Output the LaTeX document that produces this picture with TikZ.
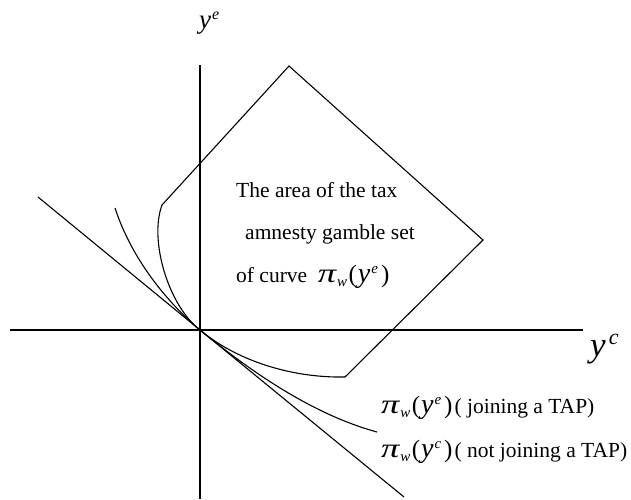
\documentclass[tikz,border=0pt]{standalone}
\usepackage{fontspec}
\usepackage{graphicx}
\setmainfont{Liberation Serif}
\newcommand{\fsz}[1]{\fontsize{#1}{#1}\selectfont}
\newcommand{\piw}[1]{\scalebox{1.35}[1]{\fsz{27}\textit{π}}\raisebox{-4pt}{\fsz{15}\textit{w}}\kern1.5pt{\fsz{25}(}\kern1pt{\fsz{28}\textit{y}}\kern1pt\raisebox{9pt}{\fsz{15}\textit{#1}}\kern3pt{\fsz{25})}\kern2pt}
\begin{document}
\begin{tikzpicture}[x=1pt,y=-1pt,
  ln/.style={line width=1.1pt,black},
  lbl/.style={anchor=base west,inner sep=0pt,font=\fsz{21.5}}]
\useasboundingbox (0,0) rectangle (631,499);
% axes
\coordinate (O) at (200,330);
\coordinate (vtop) at (200,65);
\coordinate (vbot) at (200,499);
\coordinate (hl) at (10,330);
\coordinate (hr) at (583,330);
\draw[ln] (vtop) -- (vbot);
\draw[ln] (hl) -- (hr);
% gamble set boundary
\coordinate (A) at (162,205);
\coordinate (B) at (289,66);
\coordinate (C) at (483,240);
\coordinate (D) at (345,377);
\draw[ln] (A) -- (B) -- (C) -- (D);
\draw[ln] (A) .. controls (149,240) and (168,305) .. (O)
            .. controls (236,360) and (290,378) .. (D);
% curve pi_w(y^e)
\coordinate (E1) at (115,208);
\coordinate (E2) at (377,432);
\draw[ln] (E1) .. controls (132,260) and (168,303) .. (O)
            .. controls (255,375) and (315,415) .. (E2);
% straight line pi_w(y^c)
\coordinate (L1) at (38,197);
\coordinate (L2) at (404,497);
\draw[ln] (L1) -- (O) -- (L2);
% texts
\node[lbl] (t1) at (236,197) {The area of the tax};
\node[lbl] (t2) at (245,239) {amnesty gamble set};
\node[lbl] (t3) at (236,282) {of curve\ \ \piw{e}};
\node[lbl] (p1) at (381,413) {\piw{e}( joining a TAP)};
\node[lbl] (p2) at (381,457) {\piw{c}( not joining a TAP)};
\node[lbl] (ye) at (199,28) {{\fsz{27}\textit{y}}\kern1pt\raisebox{9pt}{\fsz{16}\textit{e}}};
\node[lbl] (yc) at (590,356) {{\fsz{35}\textit{y}}\kern3pt\raisebox{12pt}{\fsz{22}\textit{c}}};
\end{tikzpicture}
\end{document}
